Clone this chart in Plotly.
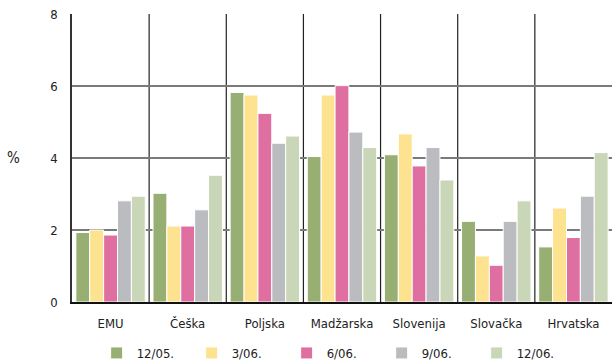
import plotly.graph_objects as go

categories = ["EMU", "Češka", "Poljska", "Madžarska", "Slovenija", "Slovačka", "Hrvatska"]
series_names = ["12/05.", "3/06.", "6/06.", "9/06.", "12/06."]
s_1205 = [1.93, 3.02, 5.82, 4.04, 4.09, 2.24, 1.53]
s_0306 = [2.00, 2.11, 5.75, 5.75, 4.67, 1.28, 2.61]
s_0606 = [1.86, 2.11, 5.24, 6.01, 3.78, 1.02, 1.79]
s_0906 = [2.81, 2.56, 4.41, 4.72, 4.29, 2.24, 2.94]
s_1206 = [2.94, 3.52, 4.61, 4.29, 3.39, 2.81, 4.15]
y_ticks = [0, 2, 4, 6, 8]

colors = ["#97AF73", "#FDE28F", "#E06FA1", "#BBBCC0", "#C9D7B8"]
all_series = [s_1205, s_0306, s_0606, s_0906, s_1206]

FONT = "DejaVu Sans Condensed, Liberation Sans Narrow, Roboto, sans-serif"
xs = list(range(len(categories)))

fig = go.Figure()
for name, vals, col in zip(series_names, all_series, colors):
    fig.add_trace(go.Bar(x=xs, y=vals, name=name, marker=dict(color=col, line=dict(color="white", width=1))))

for i in range(len(categories) - 1):
    fig.add_shape(type="line", xref="x", yref="paper", x0=i + 0.5, x1=i + 0.5, y0=0, y1=1,
                  line=dict(color="#222", width=1.2), layer="below")

fig.update_layout(
    width=620, height=360,
    margin=dict(l=72, r=0, t=14, b=58, autoexpand=False),
    paper_bgcolor="white", plot_bgcolor="white",
    barmode="group", bargap=0.1, bargroupgap=0,
    font=dict(family=FONT, size=13, color="#222"),
    showlegend=True,
    legend=dict(orientation="h", x=0.045, xanchor="left", y=-0.125, yanchor="top",
                entrywidth=50, entrywidthmode="pixels", font=dict(size=13, family=FONT),
                itemwidth=30, tracegroupgap=0),
    annotations=[dict(text="%", xref="paper", yref="paper", x=-0.107, y=0.5, showarrow=False,
                      font=dict(size=15, family=FONT), xanchor="center")],
)
fig.update_xaxes(range=[-0.5, 6.604], tickmode="array", tickvals=xs, ticktext=categories,
                 showgrid=False, showline=True, linecolor="#111", linewidth=2,
                 ticks="", ticklabelstandoff=8, zeroline=False, mirror=False, automargin=False)
fig.update_yaxes(range=[0, 8], tickvals=y_ticks, showgrid=True, gridcolor="#7a7a7a", gridwidth=1.5,
                 showline=True, linecolor="#333", linewidth=1.5, ticks="", ticklabelstandoff=10,
                 zeroline=False, automargin=False)

fig.write_html("out.html", config={"displayModeBar": False},
               post_script="document.body.style.margin='0';document.body.style.overflow='hidden';"
                           "document.documentElement.style.overflow='hidden';")
